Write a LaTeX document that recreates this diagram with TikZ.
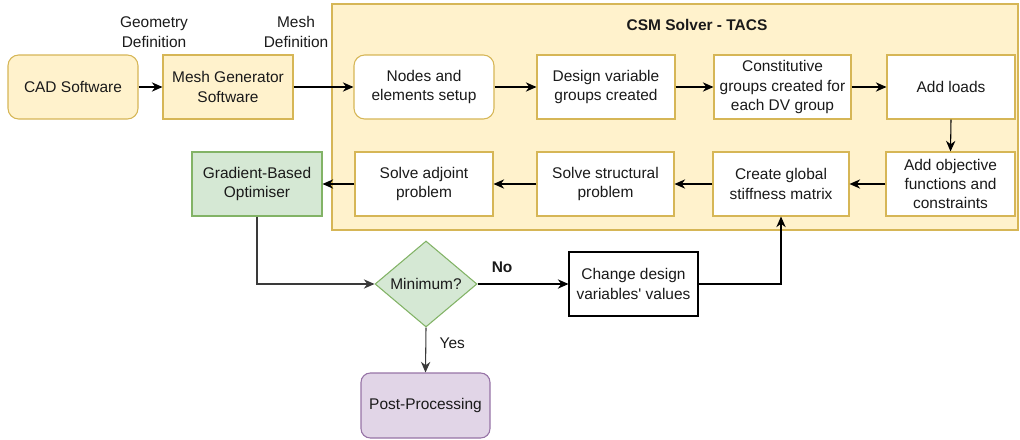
\documentclass[tikz,border=0pt]{standalone}
\usepackage{fontspec}
\setmainfont{Liberation Sans}[Ligatures=TeXOff]
\usetikzlibrary{arrows.meta,shapes.geometric}
\definecolor{yfill}{HTML}{FFF2CC}
\definecolor{ystroke}{HTML}{D6B656}
\definecolor{gfill}{HTML}{D5E8D4}
\definecolor{gstroke}{HTML}{82B366}
\definecolor{pfill}{HTML}{E1D5E7}
\definecolor{pstroke}{HTML}{9673A6}
\definecolor{txt}{HTML}{1A1A1A}
\definecolor{lgray}{HTML}{3A3A3A}
\tikzset{
  base/.style={inner sep=0pt, align=center, text=txt, font=\fontsize{11.6}{14.3}\selectfont, line width=0.8pt},
  ybox/.style={base, draw=ystroke, fill=yfill},
  wbox/.style={base, draw=ystroke, fill=white},
  gbox/.style={base, draw=gstroke, fill=gfill},
  pbox/.style={base, draw=pstroke, fill=pfill, rounded corners=7pt},
  bbox/.style={base, draw=black, fill=white},
  lbl/.style={inner sep=0pt, align=center, text=txt, font=\fontsize{11.6}{14.8}\selectfont},
  conn/.style={draw=black, line width=0.8pt, -{Stealth[length=8pt,width=7pt,inset=2.6pt]}},
  gconn/.style={conn, draw=lgray}
}
\begin{document}
\begin{tikzpicture}[x=0.75pt,y=-0.75pt]
\useasboundingbox (0,0) rectangle (1020,439);
% container
\node[ybox, minimum width=514.5pt, minimum height=169.5pt] (csm) at (675,117) {};
\node[lbl, font=\fontsize{11.6}{14}\selectfont\bfseries] (title) at (697,25) {CSM Solver - TACS};
% left chain
\node[ybox, rounded corners=8pt, minimum width=97.5pt, minimum height=48pt] (cad) at (73,87) {CAD Software};
\node[ybox, minimum width=97.5pt, minimum height=48pt] (mesh) at (228,87) {Mesh Generator\\Software};
\node[lbl] (geo) at (154,32) {Geometry\\Definition};
\node[lbl] (meshdef) at (296,32) {Mesh\\Definition};
% row 1
\node[wbox, rounded corners=8pt, minimum width=105pt, minimum height=48pt] (nodes) at (424,87) {Nodes and\\elements setup};
\node[wbox, minimum width=103.5pt, minimum height=48pt] (design) at (606,87) {Design variable\\groups created};
\node[wbox, minimum width=102.75pt, minimum height=48pt] (const) at (782.5,87) {Constitutive\\groups created for\\each DV group};
\node[wbox, minimum width=96pt, minimum height=48pt] (loads) at (951,87) {Add loads};
% row 2
\node[wbox, minimum width=96.75pt, minimum height=48pt] (obj) at (950.5,184) {Add objective\\functions and\\constraints};
\node[wbox, minimum width=102pt, minimum height=48pt] (glob) at (781,184) {Create global\\stiffness matrix};
\node[wbox, minimum width=102.75pt, minimum height=48pt] (struct) at (605.5,184) {Solve structural\\problem};
\node[wbox, minimum width=103.5pt, minimum height=48pt] (adj) at (424,184) {Solve adjoint\\problem};
\node[gbox, minimum width=97.5pt, minimum height=48pt] (opt) at (257,184) {Gradient-Based\\Optimiser};
% decision
\node[gbox, diamond, minimum width=76.5pt, minimum height=64.5pt, aspect=1.19] (dec) at (426,284) {Minimum?};
\node[bbox, minimum width=96.75pt, minimum height=48pt] (chg) at (633.5,284) {Change design\\variables' values};
\node[pbox, minimum width=96.75pt, minimum height=48.75pt] (post) at (425.5,405.5) {Post-Processing};
% connectors
\draw[conn] (cad) -- (mesh);
\draw[conn] (mesh) -- (nodes);
\draw[conn] (nodes) -- (design);
\draw[conn] (design) -- (const);
\draw[conn] (const) -- (loads);
\draw[conn] (loads.south) -- (obj.north);
\draw[conn] (obj) -- (glob);
\draw[conn] (glob) -- (struct);
\draw[conn] (struct) -- (adj);
\draw[conn] (adj) -- (opt);
\draw[gconn] (opt.south) |- (dec.west);
\draw[conn] (dec.east) -- node[lbl, font=\fontsize{11.6}{14}\selectfont\bfseries, above=8pt, pos=0.27] (no) {No} (chg.west);
\draw[conn] (chg.east) -| (glob.south);
\draw[gconn] (dec.south) -- node[lbl, right=10pt, pos=0.35] (yes) {Yes} (post.north);
\end{tikzpicture}
\end{document}
